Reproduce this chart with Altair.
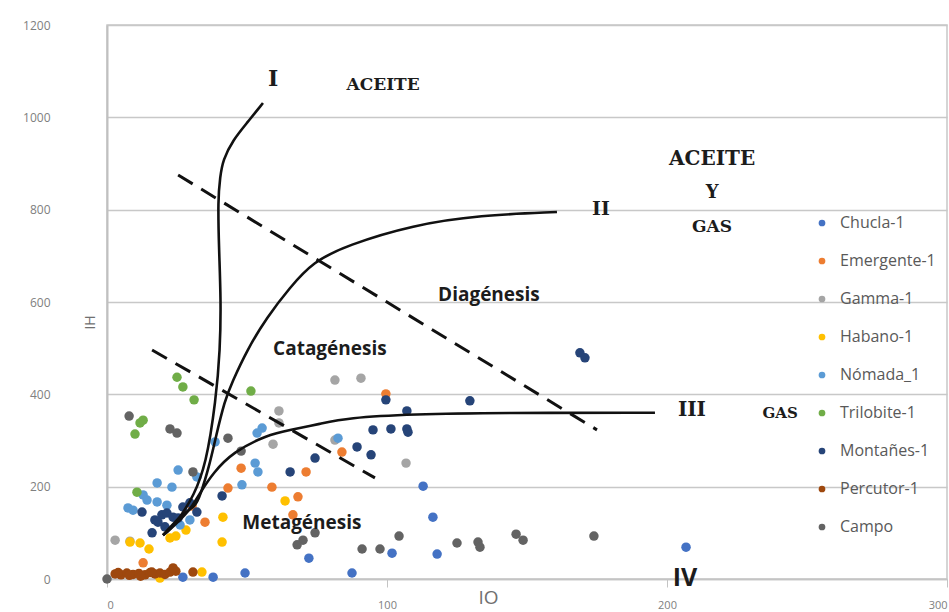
import altair as alt
import pandas as pd

# ---------------- data ----------------
series_names = ["Chucla-1", "Emergente-1", "Gamma-1", "Habano-1", "Nómada_1",
                "Trilobite-1", "Montañes-1", "Percutor-1", "Campo"]
series_colors = ["#4472C4", "#ED7D31", "#A5A5A5", "#FFC000", "#5B9BD5",
                 "#70AD47", "#264478", "#9E480E", "#636363"]

chucla_io = [112.9, 116.4, 101.8, 117.9, 87.5, 72.1, 206.8, 49.3, 27.1, 37.9]
chucla_ih = [201, 134, 56, 54, 13, 45, 69, 13, 4, 4]

emergente_io = [47.9, 43.2, 58.9, 71.1, 68.2, 66.4, 83.9, 99.6, 30.4, 35.0, 12.9]
emergente_ih = [240, 197, 199, 232, 178, 139, 275, 401, 158, 123, 35]

gamma_io = [81.4, 90.7, 81.4, 106.8, 61.4, 61.4, 59.3, 2.9, 8.2]
gamma_ih = [431, 435, 301, 251, 364, 338, 292, 84, 82]

habano_io = [41.4, 41.1, 63.6, 24.6, 22.5, 11.8, 15.0, 8.2, 18.9, 33.9, 28.2]
habano_ih = [134, 80, 169, 93, 89, 78, 65, 80, 2, 15, 106]

nomada_io = [25.4, 17.9, 23.2, 12.9, 14.3, 7.5, 9.3, 17.9, 21.4, 26.1, 29.6,
             52.9, 53.9, 48.2, 38.6, 55.4, 53.6, 82.5, 32.1]
nomada_ih = [236, 208, 199, 182, 171, 154, 149, 167, 160, 117, 128,
             251, 232, 204, 297, 327, 316, 305, 221]

trilobite_io = [25.0, 27.1, 31.1, 51.4, 11.8, 12.9, 10.0, 10.7]
trilobite_ih = [437, 416, 388, 407, 338, 344, 314, 188]

montanes_io = [12.5, 16.1, 17.1, 19.6, 21.4, 23.6, 25.4, 20.7, 18.2, 27.1, 29.6,
               32.1, 41.1, 65.4, 74.3, 89.3, 94.3, 95.0, 101.4, 107.1, 107.5,
               107.1, 99.6, 129.6, 168.9, 170.7]
montanes_ih = [145, 100, 128, 139, 143, 134, 132, 113, 123, 156, 165,
               145, 180, 232, 262, 286, 269, 323, 325, 325, 318,
               364, 388, 386, 490, 479]

percutor_io = [2.9, 5.0, 7.1, 9.3, 11.4, 13.6, 15.4, 17.1, 18.9, 20.7, 22.5,
               24.6, 30.7, 23.6, 4.0, 8.0, 12.0, 16.0]
percutor_ih = [11, 9, 13, 10, 12, 9, 14, 11, 13, 10, 15, 17, 15, 24, 14, 8, 6, 15]

campo_io = [0.0, 7.9, 22.5, 25.0, 43.2, 47.9, 30.7, 70.0, 67.9, 74.3, 91.1,
            97.5, 104.3, 125.0, 132.5, 133.2, 146.1, 148.6, 173.9]
campo_ih = [0, 353, 325, 316, 305, 277, 232, 84, 74, 100, 65,
            65, 93, 78, 80, 69, 97, 84, 93]

# maturation curves (type I, II, III)
curve_I_io = [55.7, 50.0, 45.0, 41.4, 40.4, 39.6, 40.0, 40.7, 40.4, 38.9,
              35.4, 30.7, 27.1, 22.5, 20.0]
curve_I_ih = [1031, 988, 951, 908, 871, 821, 713, 604, 496, 388,
              247, 178, 143, 106, 95]

curve_II_io = [20.0, 27.1, 31.4, 33.2, 36.8, 38.6, 42.1, 44.6, 50.0, 57.1,
               65.4, 73.6, 85.7, 109.3, 133.2, 160.7]
curve_II_ih = [95, 143, 156, 178, 251, 301, 388, 425, 496, 567,
               632, 687, 723, 767, 788, 795]

curve_III_io = [20.0, 24.3, 27.9, 30.7, 33.2, 37.9, 45.0, 57.1, 65.4, 76.1,
                85.7, 109.3, 140.4, 195.7]
curve_III_ih = [95, 117, 139, 160, 186, 230, 275, 312, 323, 336,
                349, 357, 360, 360]

# dashed boundary lines
dash_upper_io = [25.4, 175.0]
dash_upper_ih = [875, 323]
dash_lower_io = [16.1, 95.7]
dash_lower_ih = [496, 219]

# annotations
ann_text = ["I", "ACEITE", "ACEITE", "Y", "GAS", "II", "III", "GAS",
            "Diagénesis", "Catagénesis", "Metagénesis", "IV"]
ann_io = [59.3, 98.6, 216.1, 216.1, 216.1, 176.4, 208.9, 240.4,
          136.4, 79.6, 69.6, 206.4]
ann_ih = [1083, 1070, 910, 836, 762, 801, 366, 360,
          615, 498, 121, 2]

x_ticks = [0, 100, 200, 300]
y_ticks = [0, 200, 400, 600, 800, 1000, 1200]

# ---------------- build tables ----------------
series_io = [chucla_io, emergente_io, gamma_io, habano_io, nomada_io,
             trilobite_io, montanes_io, percutor_io, campo_io]
series_ih = [chucla_ih, emergente_ih, gamma_ih, habano_ih, nomada_ih,
             trilobite_ih, montanes_ih, percutor_ih, campo_ih]
rows = []
for name, xs, ys in zip(series_names, series_io, series_ih):
    for a, b in zip(xs, ys):
        rows.append({"serie": name, "io": a, "ih": b})
points_df = pd.DataFrame(rows)

crows = []
for cname, xs, ys in [("I", curve_I_io, curve_I_ih), ("II", curve_II_io, curve_II_ih),
                      ("III", curve_III_io, curve_III_ih)]:
    for i, (a, b) in enumerate(zip(xs, ys)):
        crows.append({"curve": cname, "idx": i, "io": a, "ih": b})
curves_df = pd.DataFrame(crows)

drows = []
for dname, xs, ys in [("up", dash_upper_io, dash_upper_ih), ("low", dash_lower_io, dash_lower_ih)]:
    for i, (a, b) in enumerate(zip(xs, ys)):
        drows.append({"dash": dname, "idx": i, "io": a, "ih": b})
dash_df = pd.DataFrame(drows)

# ---------------- encodings ----------------
x_axis = alt.Axis(values=x_ticks, format="d", grid=False, domain=True, domainColor="#c4c4c4",
                  domainWidth=1.5, ticks=True, tickColor="#c4c4c4", tickSize=8,
                  labelFont="Open Sans", labelFontSize=11, labelColor="#808080",
                  labelPadding=12, titleFont="Open Sans", titleFontSize=19,
                  titleFontWeight="normal", titleColor="#707070",
                  titleX=381, titleY=18, titleBaseline="middle", titleAlign="center")
y_axis = alt.Axis(values=y_ticks, format="d", grid=True, gridColor="#c8c8c8", gridWidth=1.5,
                  domain=True, domainColor="#c0c0c0", domainWidth=2, ticks=False,
                  labelFont="Open Sans", labelFontSize=12, labelColor="#808080",
                  labelPadding=57, titleFont="Open Sans", titleFontSize=14,
                  titleFontWeight="normal", titleColor="#707070",
                  titleX=-17, titleY=297, titleBaseline="middle", titleAlign="center")

x_scale = alt.Scale(domain=[0, 300], nice=False, zero=False)
y_scale = alt.Scale(domain=[0, 1200], nice=False, zero=False)

def xe():
    return alt.X("io:Q", scale=x_scale, axis=x_axis, title="IO")

def ye():
    return alt.Y("ih:Q", scale=y_scale, axis=y_axis, title="IH")

points = alt.Chart(points_df).mark_circle(size=90, opacity=1).encode(
    x=xe(), y=ye(),
    color=alt.Color("serie:N",
                    scale=alt.Scale(domain=series_names, range=series_colors),
                    legend=alt.Legend(title=None, orient="none", legendX=707, legendY=190,
                                      labelFont="Open Sans", labelFontSize=16,
                                      labelColor="#595959", labelOffset=10,
                                      symbolType="circle", symbolSize=45,
                                      rowPadding=22, padding=0)),
)

curves = alt.Chart(curves_df).mark_line(color="#111111", strokeWidth=2.6,
                                        interpolate="basis").encode(
    x=xe(), y=ye(), detail="curve:N", order="idx:Q")

dashes = alt.Chart(dash_df).mark_line(color="#111111", strokeWidth=3,
                                      strokeDash=[17, 10]).encode(
    x=xe(), y=ye(), detail="dash:N", order="idx:Q")

styles = {
    0: ("DejaVu Serif", 22, "bold"),
    1: ("DejaVu Serif", 17, "bold"),
    2: ("DejaVu Serif", 20, "bold"),
    3: ("DejaVu Serif", 18, "bold"),
    4: ("DejaVu Serif", 17, "bold"),
    5: ("DejaVu Serif", 19, "bold"),
    6: ("DejaVu Serif", 20, "bold"),
    7: ("DejaVu Serif", 15, "bold"),
    8: ("Open Sans", 19, "bold"),
    9: ("Open Sans", 19, "bold"),
    10: ("Open Sans", 19, "bold"),
    11: ("Open Sans", 25, "bold"),
}

layers = [points, curves, dashes]
for i, t in enumerate(ann_text):
    font, size, weight = styles[i]
    df = pd.DataFrame({"io": [ann_io[i]], "ih": [ann_ih[i]], "t": [t]})
    layers.append(
        alt.Chart(df).mark_text(font=font, fontSize=size, fontWeight=weight,
                                color="#1c1c1c", align="center", baseline="middle").encode(
            x=xe(), y=ye(), text="t:N"))

chart = alt.layer(*layers).properties(
    width=840, height=554,
    autosize=alt.AutoSizeParams(type="none"),
    padding={"left": 107, "top": 25, "right": 2, "bottom": 33},
    background="white",
).configure_view(stroke="#c8c8c8", strokeWidth=1.5)

chart.save("out.html", embed_options={"renderer": "svg", "actions": False})
